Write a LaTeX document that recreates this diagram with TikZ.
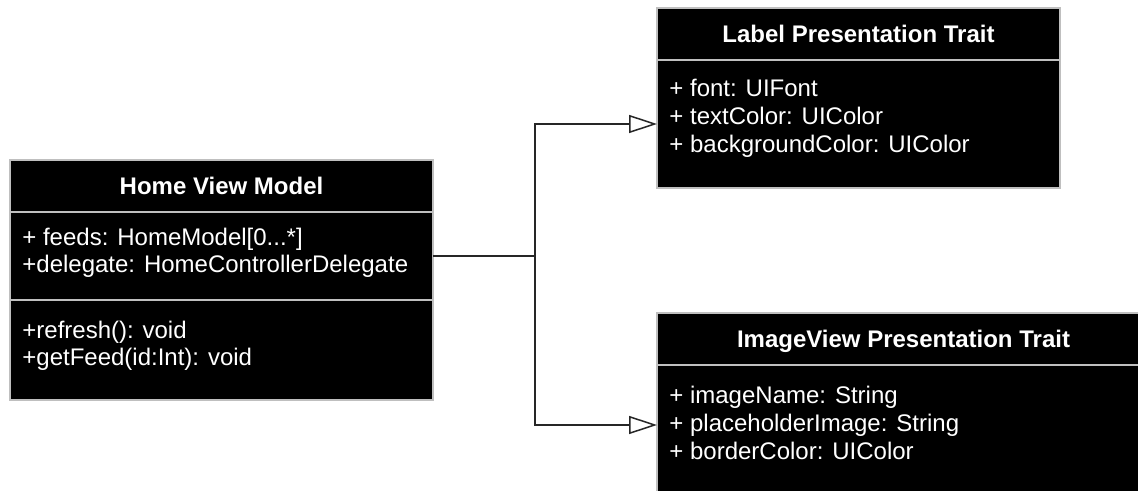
\documentclass[tikz,border=0pt]{standalone}
\usepackage{fontspec}
\setmainfont{Liberation Sans}
\usepackage{tikz}
\usetikzlibrary{arrows.meta}

\tikzset{
  compartment/.style={draw=black!25, fill=black, line width=0.6pt, outer sep=0pt,
    rectangle, anchor=north west, inner sep=0pt},
  classtitle/.style={compartment, text=white, font=\bfseries,
    text height=8.6pt, text depth=0pt},
  member/.style={anchor=base west, text=white, inner sep=0pt},
  link/.style={draw=black!85, line width=0.75pt,
    -{Triangle[length=14pt,width=9pt,fill=white]}}
}

\begin{document}
\begin{tikzpicture}[x=0.5pt,y=-0.5pt]
                \fontsize{12}{14}\selectfont
                \path[use as bounding box, clip] (0,0) rectangle (1138,491);

                % Home View Model
                \node [classtitle, minimum width=211.5pt, minimum height=26pt] (hvmtitle) at (10,160) {Home View Model};
                \node [compartment, minimum width=211.5pt, minimum height=44pt] (hvmattr) at (hvmtitle.south west) {};
                \node [compartment, minimum width=211.5pt, minimum height=50pt] (hvmops) at (hvmattr.south west) {};
                \foreach \txt/\yy [count=\i] in {{+ feeds: HomeModel[0...*]}/246, {+delegate: HomeControllerDelegate}/272}
                    \node [member] (hvmattr-\i) at (22,\yy) {\txt};
                \foreach \txt/\yy [count=\i] in {{+refresh(): void}/338, {+getFeed(id:Int): void}/365}
                    \node [member] (hvmops-\i) at (22,\yy) {\txt};

                % Label Presentation Trait
                \node [classtitle, minimum width=201.5pt, minimum height=26pt] (lpttitle) at (657,8) {Label Presentation Trait};
                \node [compartment, minimum width=201.5pt, minimum height=64pt] (lptattr) at (lpttitle.south west) {};
                \foreach \txt/\yy [count=\i] in {{+ font: UIFont}/97, {+ textColor: UIColor}/125, {+ backgroundColor: UIColor}/153}
                    \node [member] (lptattr-\i) at (669,\yy) {\txt};

                % ImageView Presentation Trait
                \node [classtitle, minimum width=246.5pt, minimum height=26pt] (ivttitle) at (657,313) {ImageView Presentation Trait};
                \node [compartment, minimum width=246.5pt, minimum height=67.5pt] (ivtattr) at (ivttitle.south west) {};
                \foreach \txt/\yy [count=\i] in {{+ imageName: String}/403, {+ placeholderImage: String}/431, {+ borderColor: UIColor}/459}
                    \node [member] (ivtattr-\i) at (669,\yy) {\txt};

                % connectors
                \path (hvmattr.east) ++(102,0) coordinate (fork);
                \draw [draw=black!85, line width=0.75pt] (hvmattr.east) -- (fork);
                \draw [link] (fork) |- (lptattr.west);
                \draw [link] (fork) |- ([yshift=3.75pt]ivtattr.west);
            \end{tikzpicture}
\end{document}
